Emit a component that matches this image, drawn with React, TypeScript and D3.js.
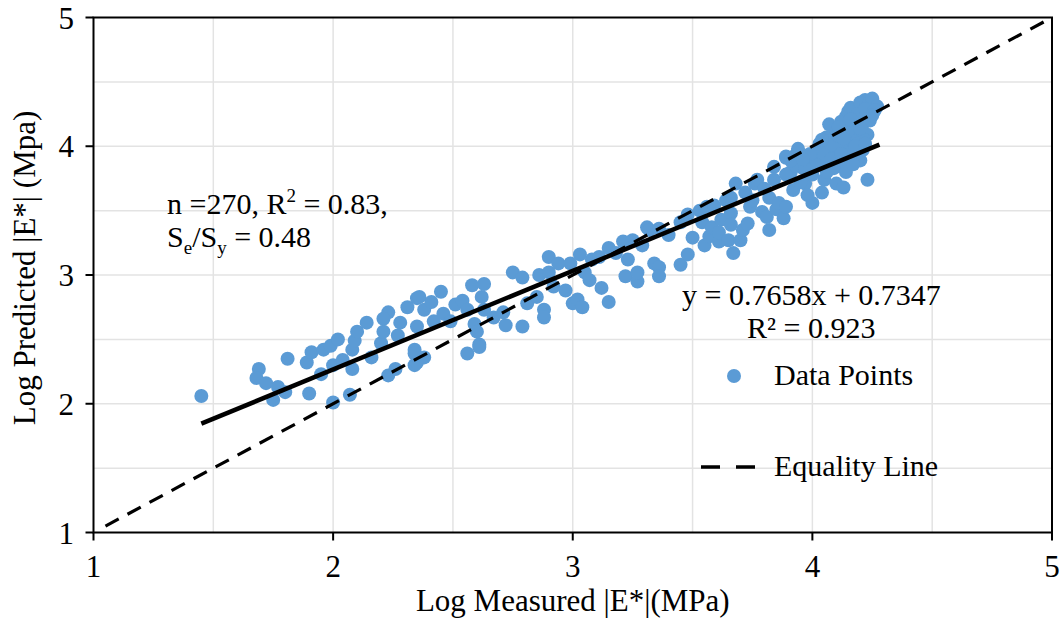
import React from "react";
import * as d3 from "d3";

const measured: number[] = [
  1.45, 1.69, 1.68, 1.72, 1.75, 1.77, 1.80, 1.81, 1.90, 1.89, 1.91, 1.95, 1.96, 1.99, 2.02, 2.00, 2.00, 2.04, 2.07, 2.08,
  2.08, 2.09, 2.10, 2.14, 2.16, 2.20, 2.21, 2.23, 2.23, 2.21, 2.26, 2.27, 2.28, 2.31, 2.34, 2.34, 2.35, 2.35, 2.34, 2.38,
  2.35, 2.36, 2.38, 2.41, 2.42, 2.45, 2.46, 2.49, 2.51, 2.54, 2.56, 2.56, 2.58, 2.59, 2.60, 2.61, 2.62, 2.63, 2.63, 2.67,
  2.71, 2.72, 2.75, 2.79, 2.79, 2.81, 2.85, 2.86, 2.88, 2.88, 2.90, 2.90, 2.92, 2.94, 2.97, 2.99, 3.00, 3.02, 3.03, 3.05,
  3.07, 3.08, 3.11, 3.12, 3.15, 3.15, 3.18, 3.21, 3.22, 3.23, 3.25, 3.27, 3.27, 3.29, 3.31, 3.04, 2.61, 3.32, 3.34, 3.36,
  3.36, 3.36, 3.40, 3.45, 3.45, 3.48, 3.50, 3.48, 3.53, 3.54, 3.55, 3.56, 3.57, 3.58, 3.59, 3.61, 3.61, 3.62, 3.64, 3.65,
  3.66, 3.67, 3.66, 3.68, 3.70, 3.71, 3.72, 3.73, 3.74, 3.75, 3.76, 3.77, 3.79, 3.80, 3.81, 3.82, 3.82, 3.84, 3.84, 3.85,
  3.86, 3.88, 3.89, 3.89, 3.91, 3.92, 3.93, 3.94, 3.96, 3.97, 3.98, 3.89, 3.94, 4.00, 4.02, 4.03, 4.07, 4.06, 4.09, 4.10,
  4.12, 4.14, 4.13, 4.15, 4.16, 4.18, 4.20, 4.22, 4.24, 4.25, 4.27, 4.23, 4.21, 4.19, 4.23, 4.21, 4.16, 4.18, 4.20, 4.14,
  4.12, 4.09, 4.14, 4.23, 4.05, 4.00, 3.95, 3.89, 3.93, 3.97, 4.06, 4.03, 4.07, 4.10, 4.12, 4.16, 4.19, 4.00, 3.98, 4.04,
  4.10, 4.13, 4.19, 4.21, 3.91, 3.66, 4.08, 4.11, 4.15, 4.17, 4.19, 4.22, 4.24, 4.26, 4.14, 4.18, 4.22, 4.05, 4.08, 4.12,
  4.17, 4.02, 3.99, 4.04, 4.13, 4.20, 4.25, 4.16, 4.11, 3.96, 4.06
];

const predicted: number[] = [
  2.06, 2.27, 2.20, 2.16, 2.03, 2.13, 2.09, 2.35, 2.08, 2.32, 2.40, 2.23, 2.42, 2.45, 2.50, 2.01, 2.30, 2.34, 2.07, 2.27,
  2.42, 2.49, 2.56, 2.63, 2.36, 2.47, 2.56, 2.22, 2.71, 2.66, 2.27, 2.53, 2.63, 2.75, 2.30, 2.42, 2.60, 2.82, 2.39, 2.36,
  2.32, 2.83, 2.73, 2.79, 2.64, 2.87, 2.70, 2.64, 2.77, 2.80, 2.39, 2.73, 2.92, 2.62, 2.56, 2.46, 2.83, 2.93, 2.73, 2.67,
  2.71, 2.61, 3.02, 2.60, 2.98, 2.78, 2.83, 3.00, 2.73, 2.67, 3.02, 3.14, 2.91, 3.09, 2.88, 3.09, 2.78, 2.81, 3.16, 3.02,
  2.96, 3.12, 3.14, 2.90, 2.79, 3.21, 3.17, 3.26, 2.99, 3.12, 3.27, 2.95, 3.02, 3.23, 3.37, 2.75, 2.44, 3.35, 3.09, 3.06,
  2.99, 3.36, 3.31, 3.08, 3.41, 3.47, 3.29, 3.16, 3.50, 3.41, 3.23, 3.53, 3.30, 3.37, 3.54, 3.26, 3.33, 3.43, 3.58, 3.27,
  3.48, 3.17, 3.39, 3.71, 3.27, 3.35, 3.64, 3.40, 3.53, 3.58, 3.71, 3.74, 3.49, 3.67, 3.45, 3.35, 3.60, 3.84, 3.74, 3.51,
  3.56, 3.44, 3.53, 3.91, 3.80, 3.66, 3.93, 3.98, 3.83, 3.71, 3.89, 3.92, 3.96, 3.92, 3.97, 4.02, 4.17, 4.07, 4.06, 4.11,
  4.19, 4.23, 4.14, 4.27, 4.30, 4.22, 4.34, 4.36, 4.35, 4.37, 4.31, 4.26, 4.17, 4.11, 4.09, 4.06, 3.98, 3.95, 3.89, 3.89,
  3.85, 3.83, 3.80, 3.74, 3.74, 3.78, 3.72, 3.78, 3.85, 3.83, 3.88, 3.96, 3.98, 3.96, 4.02, 4.06, 4.02, 3.56, 3.62, 3.64,
  3.71, 3.68, 3.91, 3.97, 3.89, 3.60, 4.01, 4.08, 4.12, 4.18, 4.25, 4.29, 4.20, 4.28, 3.93, 4.00, 4.02, 3.93, 3.90, 3.94,
  3.86, 3.85, 3.94, 4.05, 4.06, 4.14, 4.24, 4.21, 4.15, 3.90, 3.80
];

const xTicks: number[] = [1, 2, 3, 4, 5];
const yTicks: number[] = [1, 2, 3, 4, 5];
const gridSteps: number[] = [1.5, 2, 2.5, 3, 3.5, 4, 4.5];
const fitSlope = 0.7658;
const fitIntercept = 0.7347;
const fitRange: number[] = [1.45, 4.28];
const equalityRange: number[] = [1.05, 5];

const X0 = 93.5, X1 = 1052, Y0 = 532.5, Y1 = 17.5;
const FONT = "'Liberation Serif', 'Times New Roman', serif";
const BLUE = "#5B9BD5";

export default function App() {
  const x = d3.scaleLinear().domain([1, 5]).range([X0, X1]);
  const y = d3.scaleLinear().domain([1, 5]).range([Y0, Y1]);
  const line = d3.line<[number, number]>().x((d) => x(d[0])).y((d) => y(d[1]));
  const fitPts: [number, number][] = fitRange.map((v) => [v, fitSlope * v + fitIntercept]);
  const eqPts: [number, number][] = equalityRange.map((v) => [v, v]);

  return (
    <svg width={1063} height={621} style={{ position: "absolute", left: 0, top: 0, background: "#fff" }} fontFamily={FONT}>
      <rect x={0} y={0} width={1063} height={621} fill="#fff" />
      {gridSteps.map((g) => (
        <g key={"g" + g}>
          <line x1={x(g)} x2={x(g)} y1={Y1} y2={Y0} stroke="#e3e3e3" strokeWidth={1.5} />
          <line x1={X0} x2={X1} y1={y(g)} y2={y(g)} stroke="#e3e3e3" strokeWidth={1.5} />
        </g>
      ))}
      {measured.map((m, i) => (
        <circle key={i} cx={x(m)} cy={y(predicted[i])} r={7} fill={BLUE} />
      ))}
      <path d={line(eqPts) || ""} stroke="#000" strokeWidth={3.2} fill="none" strokeDasharray="15,10" />
      <path d={line(fitPts) || ""} stroke="#000" strokeWidth={4.5} fill="none" />
      <rect x={X0} y={Y1} width={X1 - X0} height={Y0 - Y1} fill="none" stroke="#000" strokeWidth={2} />
      {xTicks.map((t) => (
        <g key={"xt" + t}>
          <line x1={x(t)} x2={x(t)} y1={Y0} y2={Y0 + 8} stroke="#000" strokeWidth={2} />
          <text x={x(t)} y={577} fontSize={31} textAnchor="middle">{t}</text>
        </g>
      ))}
      {yTicks.map((t) => (
        <g key={"yt" + t}>
          <line x1={X0 - 8} x2={X0} y1={y(t)} y2={y(t)} stroke="#000" strokeWidth={2} />
          <text x={74} y={y(t) + 11} fontSize={31} textAnchor="end">{t}</text>
        </g>
      ))}
      <text x={(X0 + X1) / 2} y={611} fontSize={31} textAnchor="middle">Log Measured |E*|(MPa)</text>
      <text transform={`translate(35,${268}) rotate(-90)`} fontSize={31} textAnchor="middle">Log Predicted |E*| (Mpa)</text>

      <text x={167} y={214} fontSize={30}>
        n =270, R<tspan dy={-12} fontSize={19}>2</tspan><tspan dy={12}> = 0.83,</tspan>
      </text>
      <text x={167} y={247} fontSize={30}>
        S<tspan dy={7} fontSize={19}>e</tspan><tspan dy={-7}>/S</tspan><tspan dy={7} fontSize={19}>y</tspan><tspan dy={-7}> = 0.48</tspan>
      </text>

      <text x={682} y={305} fontSize={30}>y = 0.7658x + 0.7347</text>
      <text x={747} y={338} fontSize={30}>R² = 0.923</text>

      <circle cx={734} cy={376} r={7} fill={BLUE} />
      <text x={774} y={385} fontSize={30}>Data Points</text>
      <line x1={701} x2={756} y1={467} y2={467} stroke="#000" strokeWidth={3.5} strokeDasharray="19,16" />
      <text x={774} y={476} fontSize={30}>Equality Line</text>
    </svg>
  );
}
